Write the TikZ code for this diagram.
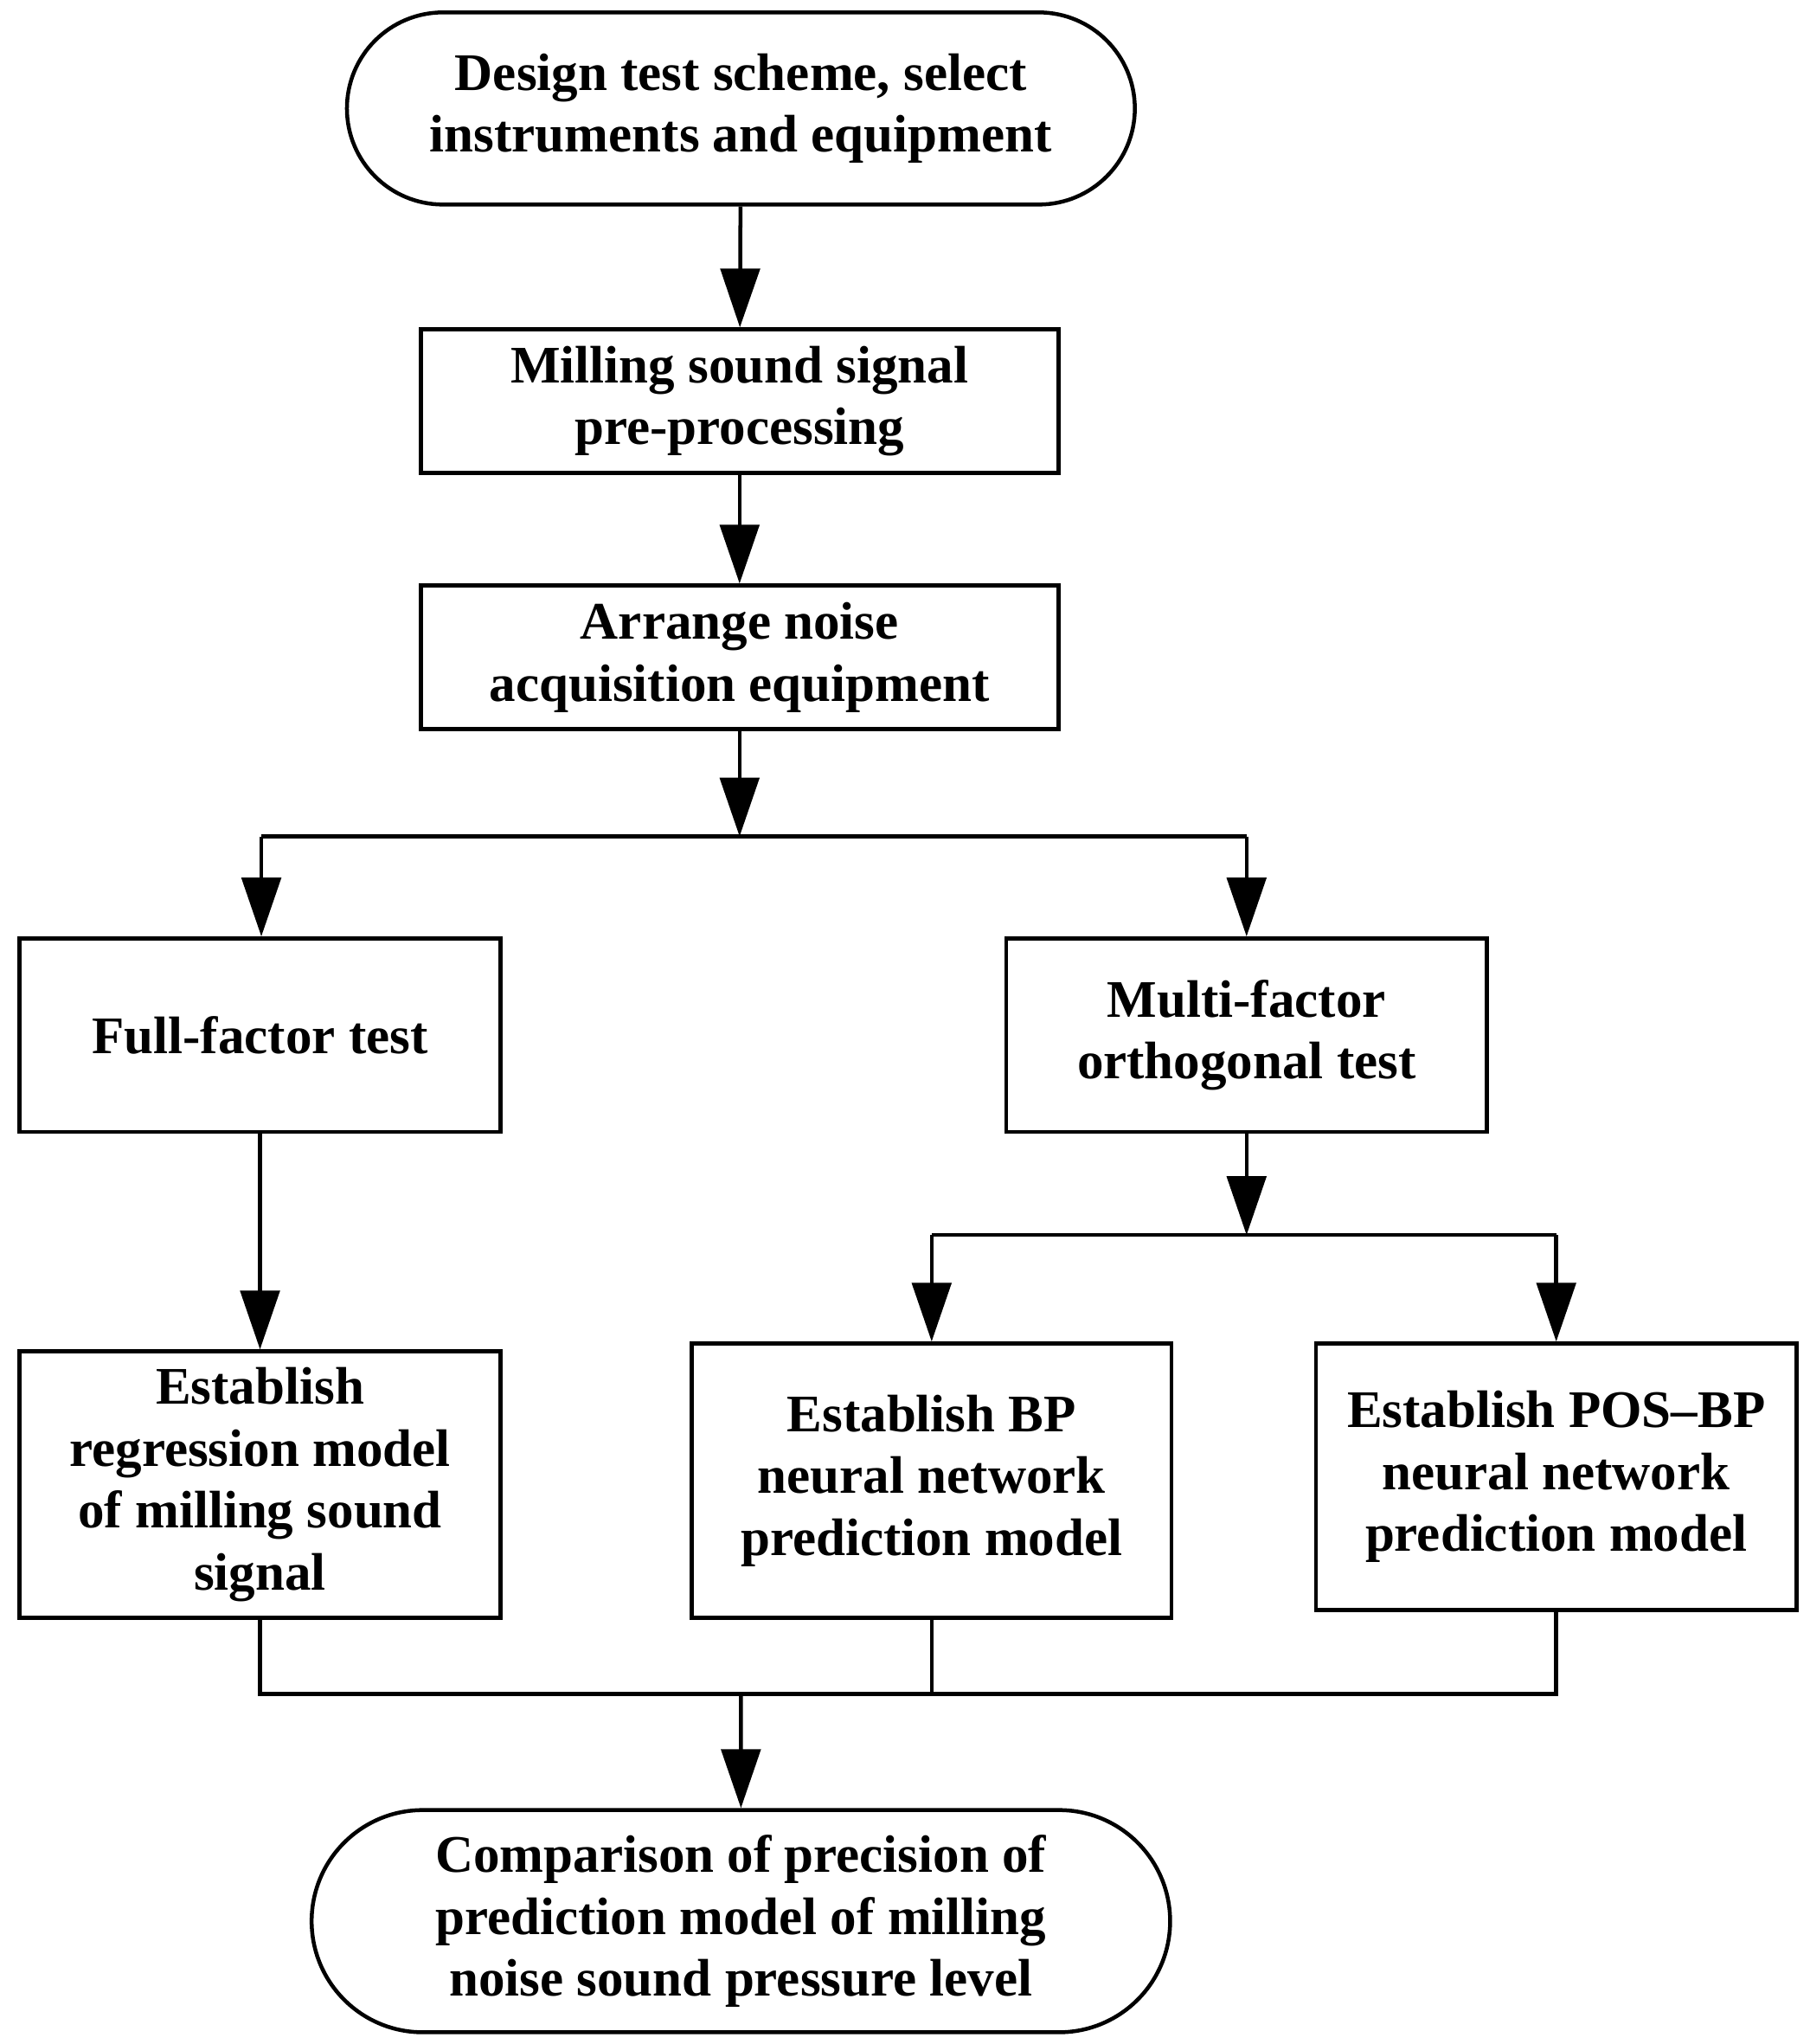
\documentclass[tikz,border=0pt]{standalone}
\usepackage{fontspec}
\setmainfont{Liberation Serif}
\usetikzlibrary{arrows.meta,shapes.misc}
\begin{document}
\begin{tikzpicture}[x=0.02cm,y=-0.02cm,
  line width=1.7pt,
  box/.style={draw,rectangle,align=center,font=\fontsize{23}{27}\selectfont\bfseries,inner sep=0pt},
  term/.style={draw,rounded rectangle,align=center,font=\fontsize{23}{27}\selectfont\bfseries,inner sep=0pt},
  arr/.style={-{Triangle[width=0.6cm,length=0.9cm]}}]
\useasboundingbox (0,0) rectangle (1385,1564);
\node[term,minimum width=603*0.02cm,minimum height=147*0.02cm] (a) at (567,83) {Design test scheme, select\\instruments and equipment};
\node[box,minimum width=488*0.02cm,minimum height=110*0.02cm] (b) at (566,307) {Milling sound signal\\pre-processing};
\node[box,minimum width=488*0.02cm,minimum height=110*0.02cm] (c) at (566,503) {Arrange noise\\acquisition equipment};
\node[box,minimum width=368*0.02cm,minimum height=148*0.02cm] (d) at (199,792) {Full-factor test};
\node[box,minimum width=368*0.02cm,minimum height=148*0.02cm] (e) at (954,792) {Multi-factor\\orthogonal test};
\node[box,minimum width=368*0.02cm,minimum height=204*0.02cm] (f) at (199,1136) {Establish\\regression model\\of milling sound\\signal};
\node[box,minimum width=367*0.02cm,minimum height=210*0.02cm] (g) at (713,1133) {Establish BP\\neural network\\prediction model};
\node[box,minimum width=368*0.02cm,minimum height=204*0.02cm] (h) at (1191,1130) {Establish POS--BP\\neural network\\prediction model};
\node[term,minimum width=657*0.02cm,minimum height=170*0.02cm] (i) at (567,1470) {Comparison of precision of\\prediction model of milling\\noise sound pressure level};
\coordinate (s1) at (566,640);
\coordinate (s1l) at (200,640);
\coordinate (s1r) at (954,640);
\coordinate (s2) at (954,945);
\coordinate (s2l) at (713,945);
\coordinate (s2r) at (1191,945);
\coordinate (m) at (567,1296);
\coordinate (ml) at (199,1296);
\coordinate (mr) at (1191,1296);
\draw[arr] (a) -- (b);
\draw[arr] (b) -- (c);
\draw[arr] (c) -- (s1);
\draw (s1l) -- (s1r);
\draw[arr] (s1l) -- (d.north -| s1l);
\draw[arr] (s1r) -- (e);
\draw[arr] (d) -- (f);
\draw[arr] (e) -- (s2);
\draw (s2l) -- (s2r);
\draw[arr] (s2l) -- (g);
\draw[arr] (s2r) -- (h);
\draw (f.south) -- (ml) -- (mr) -- (h.south);
\draw (g.south) -- (g.south |- m);
\draw[arr] (m) -- (i);
\end{tikzpicture}
\end{document}
